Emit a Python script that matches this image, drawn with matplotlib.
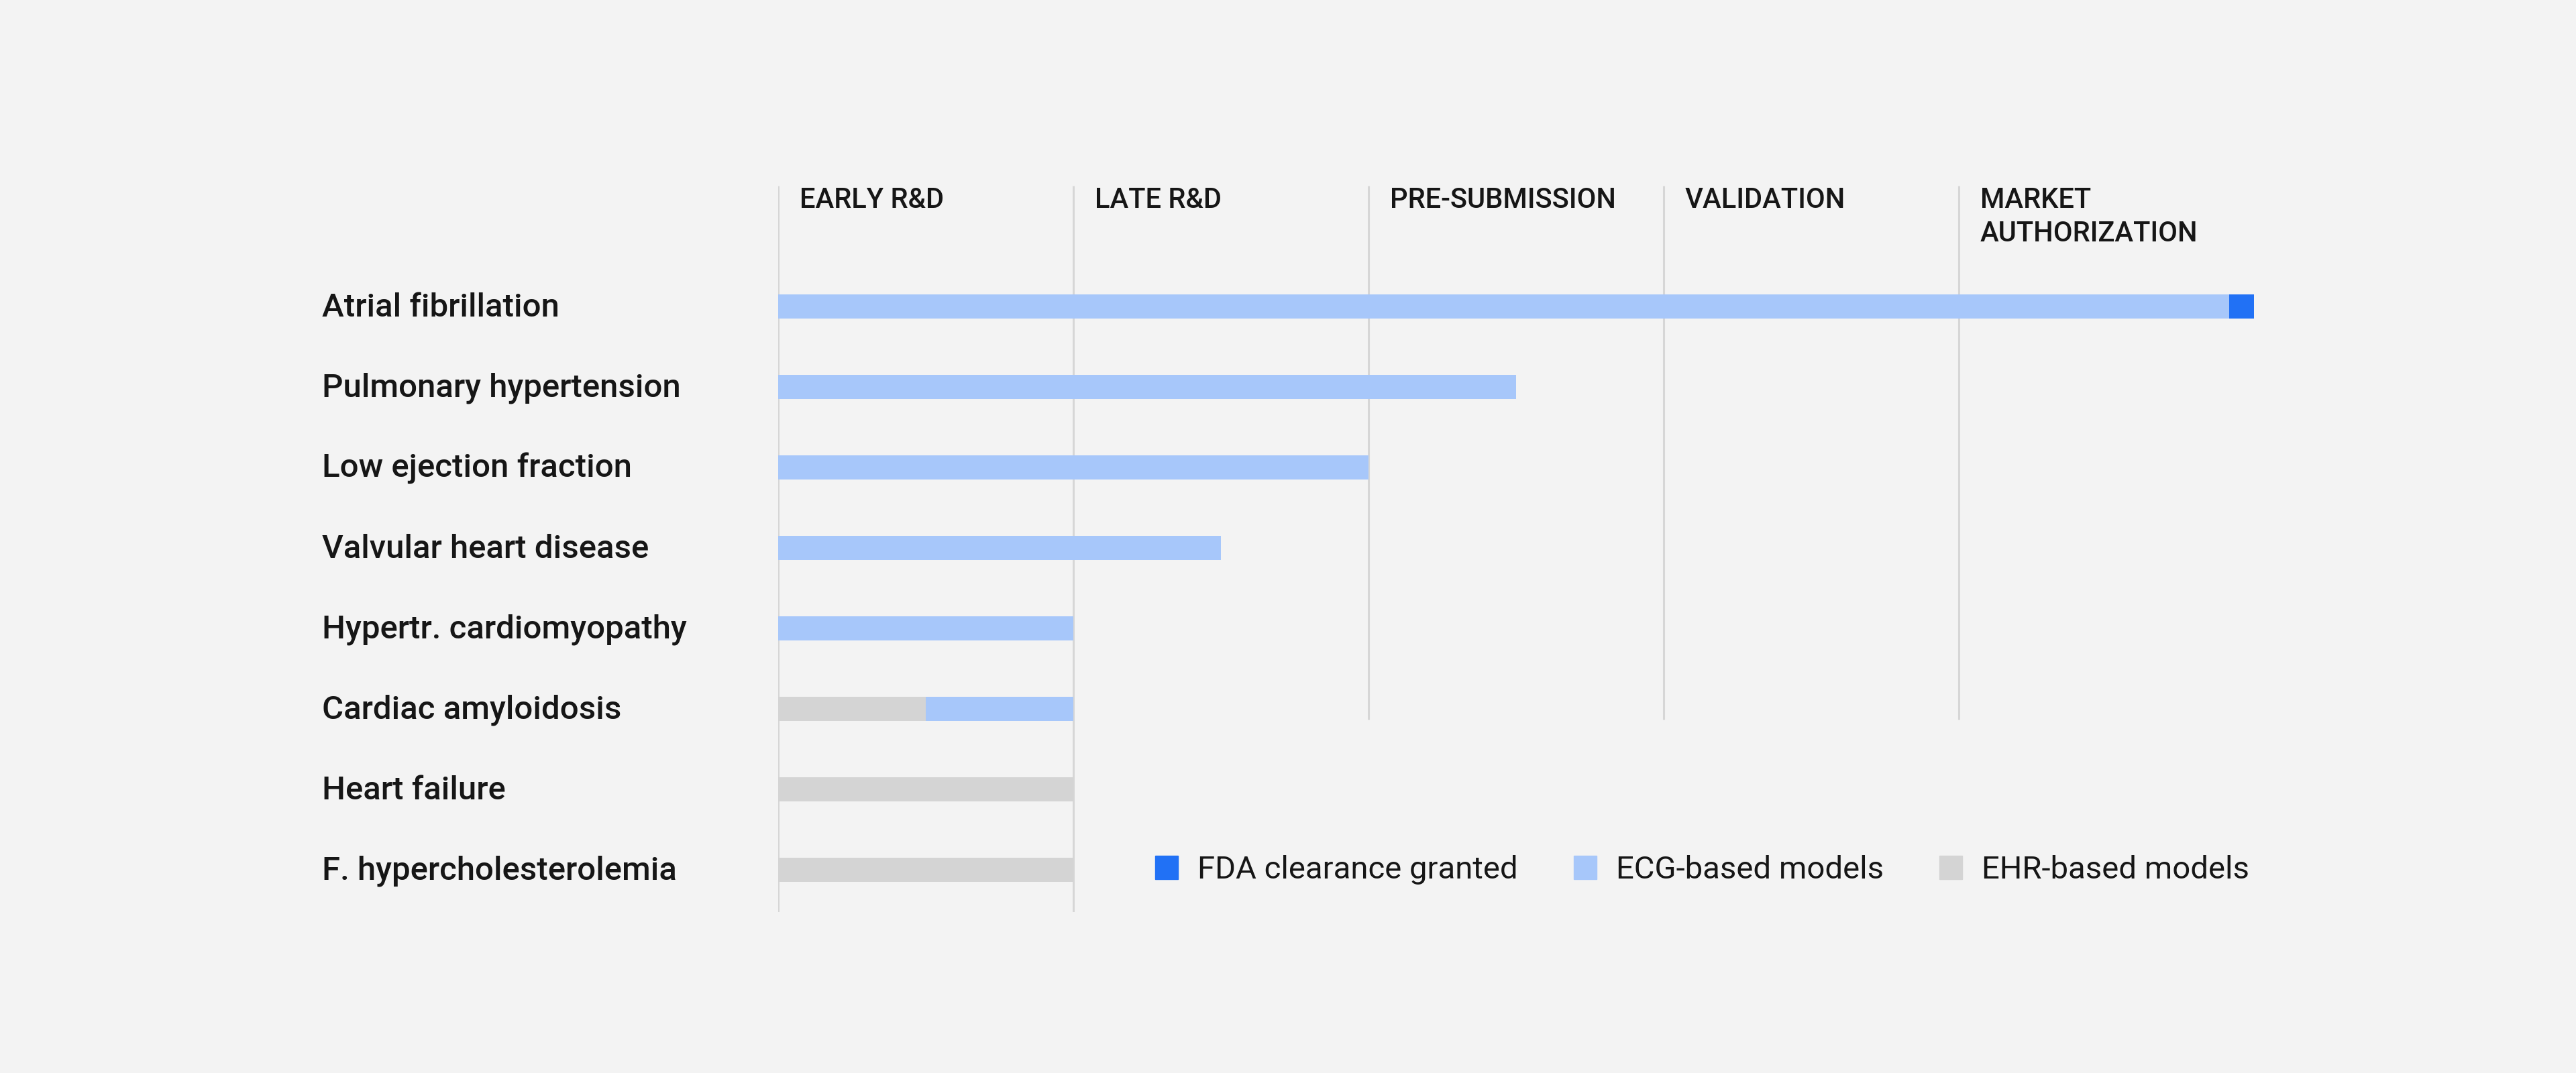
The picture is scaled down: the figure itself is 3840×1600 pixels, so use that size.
import matplotlib
matplotlib.use('Agg')
import matplotlib.pyplot as plt
import matplotlib.transforms as mtransforms
from matplotlib.patches import Patch

# stages along the x axis
stages = ['EARLY R&D', 'LATE R&D', 'PRE-SUBMISSION', 'VALIDATION', 'MARKET\nAUTHORIZATION']
conditions = ['Atrial fibrillation', 'Pulmonary hypertension', 'Low ejection fraction',
              'Valvular heart disease', 'Hypertr. cardiomyopathy', 'Cardiac amyloidosis',
              'Heart failure', 'F. hypercholesterolemia']
# lengths of each stacked segment (in stage units)
ehr_len = [0, 0, 0, 0, 0, 0.5, 1, 1]
ecg_len = [4.915, 2.5, 2, 1.5, 1, 0.5, 0, 0]
fda_len = [0.085, 0, 0, 0, 0, 0, 0, 0]
# how far down each stage divider goes (row index)
line_end = [7.525, 7.525, 5.13, 5.13, 5.13]

BG = '#f3f3f3'
C_FDA = '#2171f5'
C_ECG = '#a7c7fa'
C_EHR = '#d4d4d4'
C_LINE = '#d6d6d6'
C_TXT = '#161616'

plt.rcParams['font.family'] = ['Roboto', 'DejaVu Sans']

fig = plt.figure(figsize=(38.4, 16), dpi=100, facecolor=BG)
ax = fig.add_axes([1160/3840, 1 - 1360/1600, 2200/3840, (1360 - 277)/1600])
ax.set_facecolor(BG)
ax.set_xlim(0, 5)
ax.set_ylim(7.525, -1.5)
ax.axis('off')

for i, st in enumerate(stages):
    ax.plot([i, i], [-1.5, line_end[i]], color=C_LINE, lw=2.2, zorder=1, solid_capstyle='butt')
    ax.text(i + 0.073, -1.49, st, ha='left', va='top', fontsize=30, fontweight='medium',
            color=C_TXT, linespacing=1.28)

y = list(range(len(conditions)))
left_ecg = [a for a in ehr_len]
left_fda = [a + b for a, b in zip(ehr_len, ecg_len)]
ax.barh(y, ehr_len, height=0.3, color=C_EHR, zorder=2)
ax.barh(y, ecg_len, left=left_ecg, height=0.3, color=C_ECG, zorder=2)
ax.barh(y, fda_len, left=left_fda, height=0.3, color=C_FDA, zorder=2)

trans = mtransforms.blended_transform_factory(fig.transFigure, ax.transData)
for i, c in enumerate(conditions):
    ax.text(480/3840, i + 0.125, c, transform=trans, ha='left', va='baseline', fontsize=35.4,
            fontweight='medium', color=C_TXT)

handles = [Patch(color=C_FDA, label='FDA clearance granted'),
           Patch(color=C_ECG, label='ECG-based models'),
           Patch(color=C_EHR, label='EHR-based models')]
leg = ax.legend(handles=handles, ncol=3, loc='center left',
                bbox_to_anchor=(1722/3840, 1 - 1297/1600), bbox_transform=fig.transFigure,
                frameon=False, fontsize=34, handlelength=0.72, handleheight=0.78,
                handletextpad=0.62, columnspacing=1.75, borderpad=0, borderaxespad=0)
for t in leg.get_texts():
    t.set_color(C_TXT)

fig.savefig('out.png', dpi=100, facecolor=BG)
